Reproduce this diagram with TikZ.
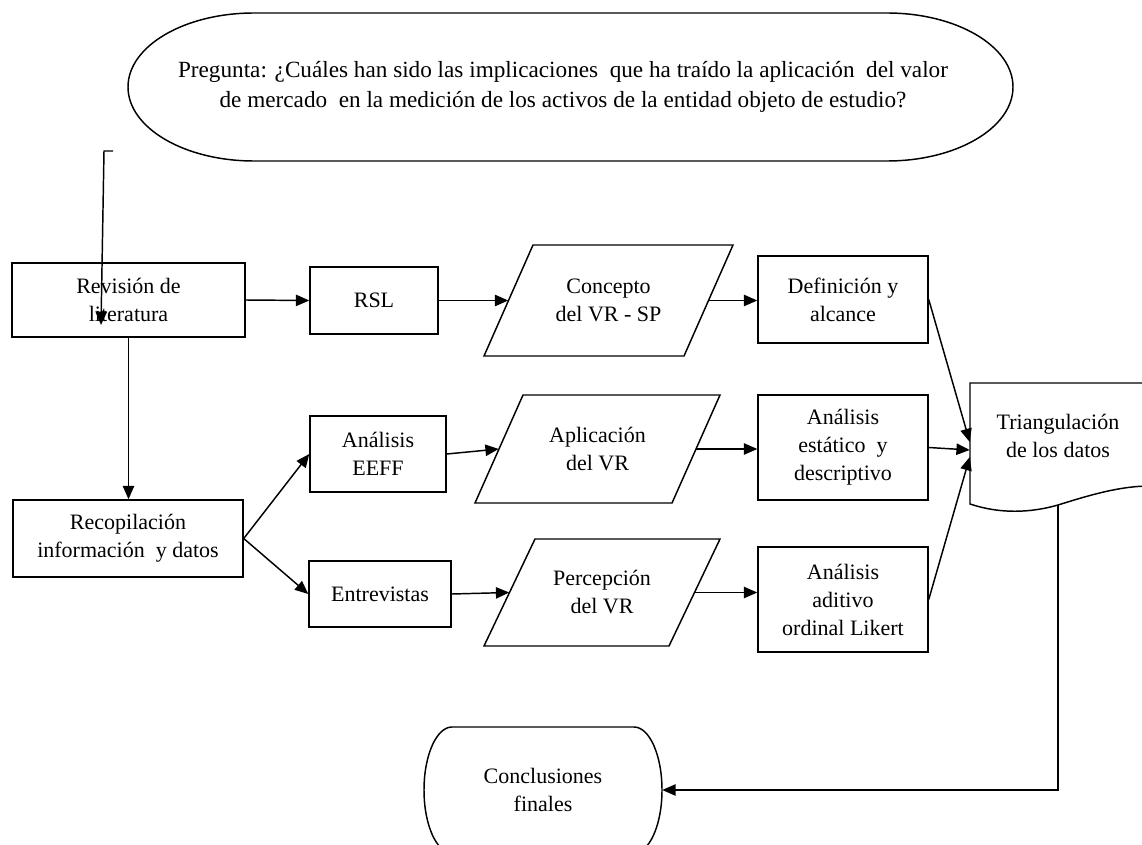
\documentclass[tikz,border=0pt]{standalone}
\usepackage{fontspec}
\setmainfont{Liberation Serif}
\usetikzlibrary{arrows.meta}
\begin{document}
\begin{tikzpicture}[x=0.75pt,y=0.75pt,
  txt/.style={font=\fontsize{16.5}{21}\selectfont, align=center, inner sep=0pt},
  box/.style={txt, draw, line width=1.1pt},
  ghost/.style={txt},
  ln/.style={line width=1.1pt},
  arr/.style={ln, -{Triangle[length=10pt,width=8.5pt]}}]
\useasboundingbox (0,0) rectangle (1142,-845);
\fill[white] (0,0) rectangle (1142,-845);
\clip (0,0) rectangle (1142,-845);

% question
\draw[ln] (254,-13) -- (887,-13) arc(90:-90:126 and 74) -- (254,-161) arc(270:90:126 and 74) -- cycle;
\node[txt, font=\fontsize{17.4}{22}\selectfont] (q) at (563,-87) {Pregunta: ¿Cuáles han sido las implicaciones\ \ que ha traído la aplicación\ \ del valor\\de mercado\ \ en la medición de los activos de la entidad objeto de estudio?};

% rectangles
\node[box, minimum width=233*0.75pt, minimum height=74*0.75pt] (rev) at (128.5,-300) {Revisión de\\literatura};
\node[box, minimum width=230*0.75pt, minimum height=77*0.75pt] (rec) at (128,-538.5) {Recopilación\\información\ \ y datos};
\node[box, minimum width=128*0.75pt, minimum height=67*0.75pt] (rsl) at (374,-300.5) {RSL};
\node[box, minimum width=136*0.75pt, minimum height=76*0.75pt] (eeff) at (378,-454) {Análisis\\EEFF};
\node[box, minimum width=142*0.75pt, minimum height=66*0.75pt] (ent) at (380,-594) {Entrevistas};
\node[box, minimum width=170*0.75pt, minimum height=87*0.75pt] (def) at (843,-299.5) {Definición y\\alcance};
\node[box, minimum width=170*0.75pt, minimum height=105*0.75pt] (est) at (843,-447.5) {Análisis\\estático\ \ y\\descriptivo};
\node[box, minimum width=170*0.75pt, minimum height=105*0.75pt] (adi) at (843,-599.5) {Análisis\\aditivo\\ordinal Likert};

% parallelograms
\draw[ln] (533,-245) -- (733,-245) -- (684,-356) -- (484,-356) -- cycle;
\node[ghost, minimum width=200*0.75pt] (con) at (608.5,-300.5) {Concepto\\del VR - SP};
\draw[ln] (523,-395) -- (720,-395) -- (672,-503) -- (475,-503) -- cycle;
\node[ghost, minimum width=197*0.75pt] (apl) at (597.5,-449) {Aplicación\\del VR};
\draw[ln] (535,-539) -- (720,-539) -- (669,-646) -- (484,-646) -- cycle;
\node[ghost, minimum width=185*0.75pt] (per) at (602,-592.5) {Percepción\\del VR};

% document
\draw[ln] (1150,-486) -- (1150,-383) -- (970,-383) -- (970,-504) .. controls (1000,-514) and (1030,-513) .. (1058,-505) .. controls (1090,-495) and (1120,-486) .. (1150,-486);
\node[ghost, minimum width=176*0.75pt] (tri) at (1058,-436) {Triangulación\\de los datos};
\coordinate (tribot) at (1058,-505);

% terminator
\draw[ln] (452,-727) -- (634,-727) arc(90:-90:28 and 63) -- (452,-853) arc(270:90:28 and 63) -- cycle;
\node[ghost, minimum width=238*0.75pt] (conc) at (543,-790) {Conclusiones\\finales};

% connectors
\coordinate (tk1) at (104,-151);
\coordinate (tk2) at (113,-151);
\coordinate (revtip) at (101,-325);
\draw[arr] (tk2) -- (tk1) -- (revtip);
\draw[arr] (rev.east) -- (rsl.west);
\draw[arr] (rsl.east) -- (con.west);
\draw[arr] (con.east) -- (con.east -| def.west);
\draw[arr] (rev.south) -- (rev.south |- rec.north);
\draw[arr] (rec.east) -- (eeff.west);
\draw[arr] (rec.east) -- (ent.west);
\draw[arr] (eeff.east) -- (apl.west);
\draw[arr] (apl.east) -- (apl.east -| est.west);
\draw[arr] (ent.east) -- (per.west);
\draw[arr] (per.east) -- (per.east -| adi.west);
\draw[arr] (def.east) -- ([yshift=-4.5pt]tri.west);
\draw[arr] (est.east) -- ([yshift=-10.5pt]tri.west);
\draw[arr] (adi.east) -- ([yshift=-15.75pt]tri.west);
\draw[arr] (tribot) |- (conc.east);
\end{tikzpicture}
\end{document}
